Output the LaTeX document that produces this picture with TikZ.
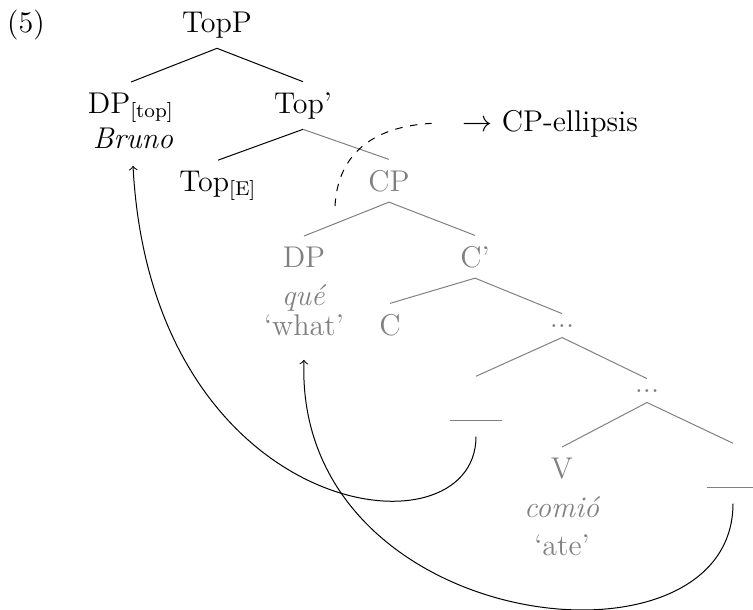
\documentclass[tikz,border=0pt,12pt]{standalone}

\begin{document}
\begin{tikzpicture}[x=0.4pt,y=-0.4pt]
      \useasboundingbox (0,0) rectangle (753,609);

      % Nodes
      \begin{scope}[every node/.style={anchor=base}]
        \node (ex) at (26,32) {(5)};
        \node (topp) at (217,32) {TopP};
        \node (dptop) at (131,113) {DP$_{\mathrm{[top]}}$};
        \node (bruno) at (133,148) {\textit{Bruno}};
        \node (topbar) at (303,113) {Top'};
        \node (tope) at (218,191) {Top$_{\mathrm{[E]}}$};
        \node (ell) at (550,131) {$\rightarrow$ CP-ellipsis};
      \end{scope}

      \begin{scope}[every node/.style={anchor=base,text=gray}]
        \node (cp) at (389,191) {CP};
        \node (dp) at (304,267) {DP};
        \node (que) at (304,305) {\textit{qué}};
        \node (what) at (304,335) {`what'};
        \node (cbar) at (475,267) {C'};
        \node (c) at (390,335) {C};
        \node (dots1) at (562,327) {...};
        \node (dots2) at (647,392) {...};
        \node[text height=13.7pt,text depth=2pt] (t1) at (476,421) {\rule{20.8pt}{0.4pt}};
        \node (v) at (562,478) {V};
        \node (comio) at (562,517) {\textit{comió}};
        \node (ate) at (562,555) {`ate'};
        \node[text height=13.7pt,text depth=2pt] (t2) at (733,488) {\rule{20.8pt}{0.4pt}};
      \end{scope}

      % Edges
      \draw (topp.south) -- (dptop.north);
      \draw (topp.south) -- (topbar.north);
      \draw (topbar.south) -- (tope.north);
      \begin{scope}[gray]
        \draw (topbar.south) -- (cp.north);
        \draw (cp.south) -- (dp.north);
        \draw (cp.south) -- (cbar.north);
        \draw (cbar.south) -- (c.north);
        \draw (cbar.south) -- (dots1.north);
        \draw (dots1.south) -- (t1.north);
        \draw (dots1.south) -- (dots2.north);
        \draw (dots2.south) -- (v.north);
        \draw (dots2.south) -- (t2.north);
      \end{scope}

      % Movement
      \draw[->] (t1.south) .. controls +(0,125) and +(19,357) .. ([yshift=-2.8pt]bruno.south);
      \draw[->] (t2.south) .. controls +(0,180) and +(-10,275) .. ([yshift=-5.6pt]what.south);

      % Ellipsis
      \coordinate (elstart) at (335,206);
      \draw[dashed] (elstart) .. controls +(3,-55) and +(-55,3) .. ([xshift=-8pt]ell.west);

    \end{tikzpicture}
\end{document}
